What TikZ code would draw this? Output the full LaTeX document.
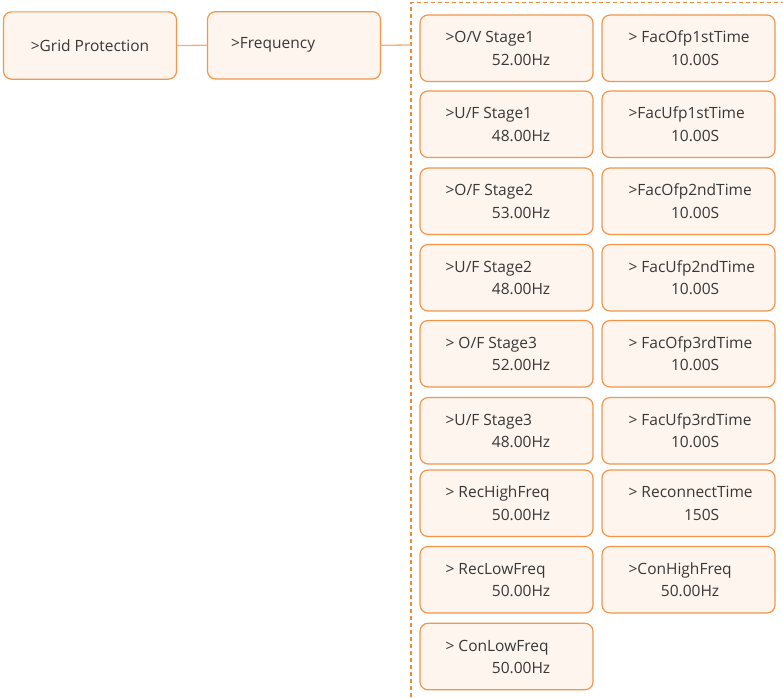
\documentclass[tikz,border=0pt]{standalone}
\usepackage{fontspec}
\setmainfont{Open Sans}
\definecolor{boxline}{HTML}{F3954A}
\definecolor{boxfill}{HTML}{FDF5EE}
\definecolor{conn}{HTML}{F7AE78}
\definecolor{dashc}{HTML}{EF8C38}
\definecolor{txtc}{HTML}{383838}
\tikzset{
  menubox/.style={draw=boxline, fill=boxfill, line width=1.2pt, rounded corners=8pt,
    minimum width=173pt, minimum height=66.5pt, inner sep=0pt},
  txt/.style={inner sep=0pt, text=txtc, font=\fontsize{15.5}{18}\selectfont},
  connline/.style={draw=conn, line width=1.3pt},
  dashline/.style={draw=dashc, line width=1.2pt, dash pattern=on 4pt off 3pt},
}
\newcommand\leftbox[4]{%
  \node[menubox] (#1) at (506.5,#2+33.25) {};
  \node[txt,anchor=base west] (#1a) at ([xshift=26pt,yshift=-28.5pt]#1.north west) {#3};
  \node[txt,anchor=base east] (#1b) at ([xshift=131pt,yshift=-51pt]#1.north west) {#4};
}
\newcommand\rightbox[4]{%
  \node[menubox] (#1) at (688.5,#2+33.25) {};
  \node[txt,anchor=base west] (#1a) at ([xshift=27pt,yshift=-28.5pt]#1.north west) {#3};
  \node[txt,anchor=base east] (#1b) at ([xshift=118pt,yshift=-51pt]#1.north west) {#4};
}
\begin{document}
\begin{tikzpicture}[x=1pt,y=-1pt]
\useasboundingbox (0,0) rectangle (783,697);
% dashed bracket
\coordinate (dbot) at (411,697);
\coordinate (dtop) at (411,2.5);
\coordinate (dright) at (783,2.5);
\coordinate (dj) at (411,45);
\draw[dashline] (dbot) -- (dtop) -- (dright);
% top-level boxes
\node[menubox, minimum height=67.3pt] (grid) at (90,45.5) {};
\node[txt] (gridt) at (grid.center) {>Grid Protection};
\node[menubox, minimum height=67.3pt] (freq) at (294,45.3) {};
\node[txt,anchor=west] (freqt) at ([xshift=24pt]freq.west) {>Frequency};
\draw[connline] (grid.east) -- (freq.west);
\draw[connline] (freq.east) -- (dj);
% left column
\leftbox{L1}{15}{>O/V Stage1}{52.00Hz}
\leftbox{L2}{91}{>U/F Stage1}{48.00Hz}
\leftbox{L3}{168}{>O/F Stage2}{53.00Hz}
\leftbox{L4}{244.5}{>U/F Stage2}{48.00Hz}
\leftbox{L5}{320.5}{> O/F Stage3}{52.00Hz}
\leftbox{L6}{397.5}{>U/F Stage3}{48.00Hz}
\leftbox{L7}{470}{> RecHighFreq}{50.00Hz}
\leftbox{L8}{546.5}{> RecLowFreq}{50.00Hz}
\leftbox{L9}{623.3}{> ConLowFreq}{50.00Hz}
% right column
\rightbox{R1}{15}{> FacOfp1stTime}{10.00S}
\rightbox{R2}{91}{>FacUfp1stTime}{10.00S}
\rightbox{R3}{168}{>FacOfp2ndTime}{10.00S}
\rightbox{R4}{244.5}{> FacUfp2ndTime}{10.00S}
\rightbox{R5}{320.5}{> FacOfp3rdTime}{10.00S}
\rightbox{R6}{397.5}{> FacUfp3rdTime}{10.00S}
\rightbox{R7}{470}{> ReconnectTime}{150S}
\rightbox{R8}{546.5}{>ConHighFreq}{50.00Hz}
\end{tikzpicture}
\end{document}
